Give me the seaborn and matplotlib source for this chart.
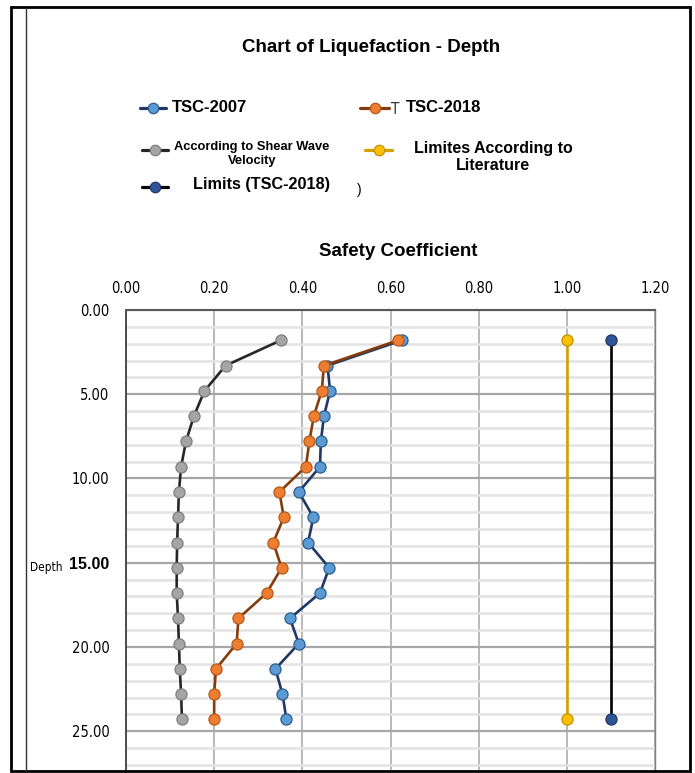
import numpy as np
import pandas as pd
import matplotlib
matplotlib.use("Agg")
import matplotlib.pyplot as plt
import seaborn as sns
from matplotlib.lines import Line2D
from matplotlib.patches import Rectangle

# depth of each measurement (m)
depth = [1.8, 3.3, 4.8, 6.3, 7.8, 9.3, 10.8, 12.3, 13.8, 15.3, 16.8, 18.3, 19.8, 21.3, 22.8, 24.3]

tsc_2007 = [0.626, 0.457, 0.463, 0.449, 0.442, 0.440, 0.392, 0.425,
            0.413, 0.461, 0.440, 0.372, 0.392, 0.339, 0.355, 0.364]
tsc_2018 = [0.617, 0.449, 0.444, 0.426, 0.416, 0.408, 0.348, 0.358,
            0.334, 0.353, 0.319, 0.255, 0.251, 0.204, 0.200, 0.200]
shear_wave = [0.351, 0.226, 0.178, 0.154, 0.136, 0.125, 0.120, 0.118,
              0.116, 0.115, 0.115, 0.118, 0.120, 0.122, 0.125, 0.127]

limit_depth = [1.8, 24.3]
limit_literature = [1.00, 1.00]
limit_tsc2018 = [1.10, 1.10]

x_ticks = [0.0, 0.2, 0.4, 0.6, 0.8, 1.0, 1.2]
y_ticks = [0, 5, 10, 15, 20, 25]

sns.set_style("white")
plt.rcParams['font.family'] = ['Liberation Sans', 'DejaVu Sans']
plt.rcParams['text.color'] = 'black'

W, H = 695, 773
fig = plt.figure(figsize=(W / 100, H / 100), dpi=100)

def fx(px):
    return px / W

def fy(py):
    return 1 - py / H

ax = fig.add_axes([fx(126), fy(770), fx(655) - fx(126), fy(310) - fy(770)])

series = [
    (tsc_2007, depth, "#1F3864", "#5B9BD5", "#2E5C8A"),
    (tsc_2018, depth, "#843C0C", "#ED7D31", "#B85A1B"),
    (shear_wave, depth, "#262626", "#A5A5A5", "#7F7F7F"),
    (limit_literature, limit_depth, "#D4A000", "#FFC000", "#C09000"),
    (limit_tsc2018, limit_depth, "#000000", "#2F5597", "#1F3864"),
]
for xs, ys, lc, mc, ec in series:
    df = pd.DataFrame({"x": xs, "y": ys})
    sns.lineplot(data=df, x="x", y="y", sort=False, estimator=None, ax=ax,
                 color=lc, linewidth=1.9, marker="o", markersize=8,
                 markerfacecolor=mc, markeredgecolor=ec, markeredgewidth=0.9,
                 zorder=3)

tick_font = dict(family="DejaVu Sans", stretch="condensed", fontsize=10.5, color="black")
ax.set_xlim(0, 1.2)
ax.set_ylim(27.3, 0)
ax.set_xticks(x_ticks)
ax.set_yticks(y_ticks)
ax.set_yticks(np.arange(0, 28, 1), minor=True)
ax.xaxis.tick_top()
ax.set_xticklabels([f"{v:.2f}" for v in x_ticks], **tick_font)
ylabels = ax.set_yticklabels([f"{v:.2f}" for v in y_ticks], **tick_font)
ylabels[3].set_family(['Liberation Sans', 'DejaVu Sans'])
ylabels[3].set_stretch("normal")
ylabels[3].set_fontweight("bold")
ylabels[3].set_fontsize(11.5)
ax.tick_params(axis="both", which="both", length=0, pad=12)
ax.tick_params(axis="x", pad=10)
ax.set_xlabel("")
ax.set_ylabel("")

ax.grid(which="minor", axis="y", color="#E3E3E3", linewidth=1.8, zorder=0)
ax.grid(which="major", axis="y", color="#A6A6A6", linewidth=1.6, zorder=0)
ax.grid(which="major", axis="x", color="#A6A6A6", linewidth=1.1, zorder=0)
ax.set_axisbelow(True)

for side, col, lw in [("left", "#404040", 1.3), ("top", "#595959", 1.5),
                      ("right", "#7F7F7F", 1.0)]:
    ax.spines[side].set_color(col)
    ax.spines[side].set_linewidth(lw)
ax.spines["bottom"].set_visible(False)

# titles
fig.text(fx(371), fy(48), "Chart of Liquefaction - Depth", ha="center", va="center",
         fontsize=13.5, fontweight="bold")
fig.text(fx(398), fy(252), "Safety Coefficient", ha="center", va="center",
         fontsize=13.5, fontweight="bold")
fig.text(fx(30), fy(567), "Depth", ha="left", va="center", fontsize=8.5,
         family="DejaVu Sans", stretch="condensed")

# legend
def legend_sample(x0, x1, y, lc, mc, ec):
    fig.add_artist(Line2D([fx(x0), fx(x1)], [fy(y), fy(y)], color=lc, linewidth=2.3,
                          transform=fig.transFigure))
    fig.add_artist(Line2D([fx((x0 + x1) / 2)], [fy(y)], marker="o", markersize=7.5,
                          markerfacecolor=mc, markeredgecolor=ec, markeredgewidth=0.9,
                          transform=fig.transFigure))

legend_sample(140, 166, 108, "#1F3864", "#5B9BD5", "#2E5C8A")
fig.text(fx(172), fy(108), "TSC-2007", ha="left", va="center", fontsize=12, fontweight="bold")

legend_sample(360, 389, 108, "#843C0C", "#ED7D31", "#B85A1B")
fig.text(fx(391), fy(110), "T", ha="left", va="center", fontsize=11, color="#333333",
         family="DejaVu Sans", stretch="condensed")
fig.text(fx(406), fy(108), "TSC-2018", ha="left", va="center", fontsize=12, fontweight="bold")

legend_sample(142, 168, 150, "#262626", "#A5A5A5", "#7F7F7F")
fig.text(fx(252), fy(154), "According to Shear Wave\nVelocity", ha="center", va="center",
         fontsize=9.3, fontweight="bold", linespacing=1.15)

legend_sample(365, 392, 150, "#D4A000", "#FFC000", "#C09000")
fig.text(fx(493), fy(157), "Limites According to\nLiterature", ha="center", va="center",
         fontsize=11.5, fontweight="bold", linespacing=1.25)

legend_sample(142, 168, 187, "#000000", "#2F5597", "#1F3864")
fig.text(fx(193), fy(185), "Limits (TSC-2018)", ha="left", va="center", fontsize=11.7,
         fontweight="bold")
fig.text(fx(357), fy(190), ")", ha="left", va="center", fontsize=10)

# outer frame
fig.add_artist(Rectangle((fx(11), fy(771)), fx(690) - fx(11), fy(7) - fy(771),
                         fill=False, edgecolor="black", linewidth=2,
                         transform=fig.transFigure))
fig.add_artist(Line2D([fx(26), fx(26)], [fy(8), fy(771)], color="#333333", linewidth=1,
                      transform=fig.transFigure))

fig.savefig("out.png", dpi=100)
